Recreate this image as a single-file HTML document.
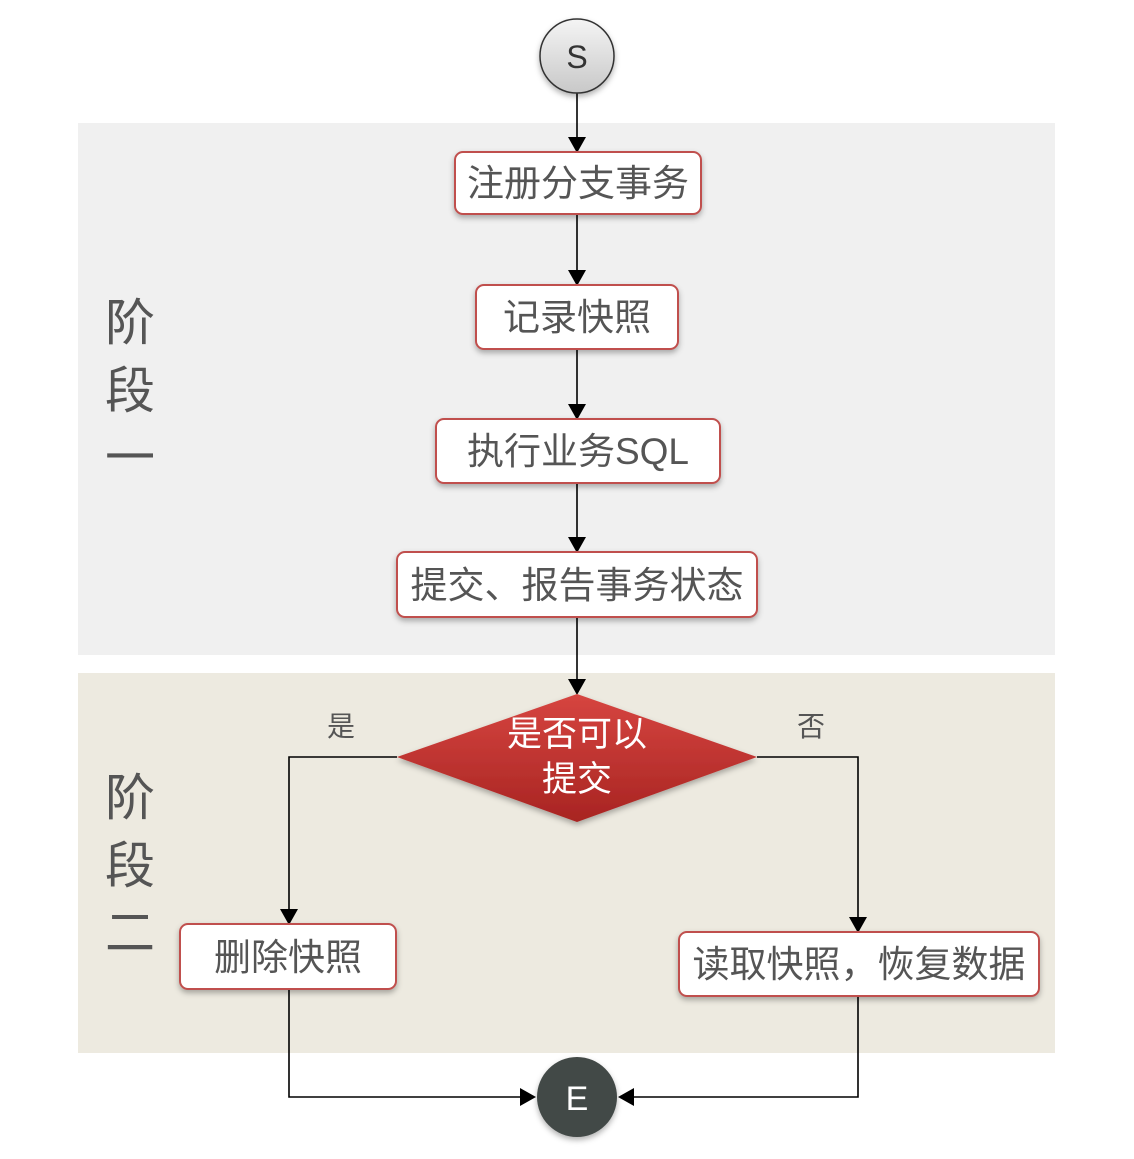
<!DOCTYPE html>
<html><head><meta charset="utf-8"><style>
body{margin:0;background:#fff;}
svg text{font-family:"Liberation Sans","Noto Sans CJK SC",sans-serif;}
</style></head><body>
<svg width="1134" height="1154" viewBox="0 0 1134 1154" xmlns="http://www.w3.org/2000/svg">
<defs>
<linearGradient id="gs" x1="0" y1="0" x2="0" y2="1"><stop offset="0" stop-color="#f4f4f4"/><stop offset="1" stop-color="#c8c8c8"/></linearGradient>
<linearGradient id="gd" x1="0" y1="0" x2="0" y2="1"><stop offset="0" stop-color="#d64540"/><stop offset="1" stop-color="#a82422"/></linearGradient>
<filter id="sh" x="-20%" y="-20%" width="140%" height="160%"><feDropShadow dx="0" dy="3" stdDeviation="3" flood-color="#000" flood-opacity="0.3"/></filter>
</defs>
<rect x="78" y="123" width="977" height="532" fill="#f0f0f0"/>
<rect x="78" y="673" width="977" height="380" fill="#edeae0"/>
<g font-size="50" fill="#555" text-anchor="middle">
<text x="130" y="340">阶</text><text x="130" y="408">段</text><text x="130" y="475">一</text>
<text x="130" y="815">阶</text><text x="130" y="883">段</text><text x="130" y="950">二</text>
</g>
<g stroke="#000" stroke-width="1.6" fill="none">
<line x1="577" y1="93" x2="577" y2="140"/>
<line x1="577" y1="214" x2="577" y2="273"/>
<line x1="577" y1="349" x2="577" y2="407"/>
<line x1="577" y1="483" x2="577" y2="540"/>
<line x1="577" y1="617" x2="577" y2="682"/>
<polyline points="397,757 289,757 289,912"/>
<polyline points="757,757 858,757 858,920"/>
<polyline points="289,989 289,1097 524,1097"/>
<polyline points="858,996 858,1097 630,1097"/>
</g>
<g fill="#000">
<path d="M568,137 L586,137 L577,153 Z"/>
<path d="M568,270 L586,270 L577,286 Z"/>
<path d="M568,404 L586,404 L577,420 Z"/>
<path d="M568,537 L586,537 L577,553 Z"/>
<path d="M568,679 L586,679 L577,695 Z"/>
<path d="M280,909 L298,909 L289,925 Z"/>
<path d="M849,917 L867,917 L858,933 Z"/>
<path d="M520,1088 L536,1097 L520,1106 Z"/>
<path d="M634,1088 L618,1097 L634,1106 Z"/>
</g>
<circle cx="577" cy="56" r="37" fill="url(#gs)" stroke="#333" stroke-width="1.5" filter="url(#sh)"/>
<text x="577" y="68" font-size="32" fill="#333" text-anchor="middle">S</text>
<g fill="#fff" stroke="#c0504d" stroke-width="2" filter="url(#sh)">
<rect x="455" y="152" width="246" height="62" rx="8"/>
<rect x="476" y="285" width="202" height="64" rx="8"/>
<rect x="436" y="419" width="284" height="64" rx="8"/>
<rect x="397" y="552" width="360" height="65" rx="8"/>
<rect x="180" y="924" width="216" height="65" rx="8"/>
<rect x="679" y="932" width="360" height="64" rx="8"/>
</g>
<g font-size="37" fill="#555" text-anchor="middle">
<text x="578" y="196">注册分支事务</text>
<text x="577" y="330">记录快照</text>
<text x="578" y="464">执行业务SQL</text>
<text x="577" y="598">提交、报告事务状态</text>
<text x="288" y="970">删除快照</text>
<text x="859" y="977">读取快照，恢复数据</text>
</g>
<path d="M577,694 L757,757 L577,822 L397,757 Z" fill="url(#gd)" filter="url(#sh)"/>
<g font-size="35" fill="#fff" text-anchor="middle">
<text x="577" y="746">是否可以</text>
<text x="577" y="791">提交</text>
</g>
<g font-size="28" fill="#555" text-anchor="middle">
<text x="341" y="736">是</text>
<text x="811" y="736">否</text>
</g>
<circle cx="577" cy="1097" r="40" fill="#424846" filter="url(#sh)"/>
<text x="577" y="1110" font-size="34" fill="#fff" text-anchor="middle">E</text>
</svg>
</body></html>
